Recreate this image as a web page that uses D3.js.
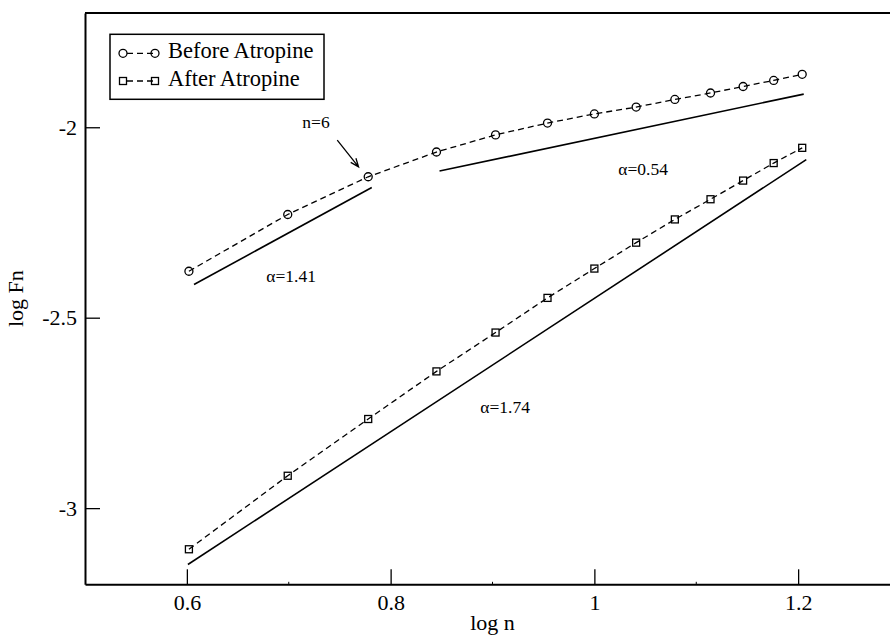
<!DOCTYPE html>
<html>
<head>
<meta charset="utf-8">
<script src="https://cdn.jsdelivr.net/npm/d3@7"></script>
<style>
  body { margin: 0; background: #fff; }
  svg text { font-family: "Liberation Serif", "Times New Roman", serif; fill: #000; }
  .axis path, .axis line { stroke: #000; }
  .axis text { font-size: 22px; }
</style>
</head>
<body>
<div id="chart"></div>
<script>
// log n for n = 4 .. 16
const logN = [0.602, 0.699, 0.778, 0.845, 0.903, 0.954, 1.000, 1.041, 1.079, 1.114, 1.146, 1.176, 1.204];
const beforeLogF = [-2.378, -2.229, -2.130, -2.065, -2.020, -1.989, -1.965, -1.947, -1.927, -1.910, -1.893, -1.877, -1.861];
const afterLogF = [-3.108, -2.915, -2.766, -2.641, -2.539, -2.448, -2.371, -2.303, -2.242, -2.189, -2.140, -2.094, -2.054];

// straight-line fits (end points)
const fitBeforeShort = [[0.607, -2.413], [0.7815, -2.158]];
const fitBeforeLong = [[0.848, -2.115], [1.2055, -1.913]];
const fitAfter = [[0.601, -3.148], [1.208, -2.085]];

const xTicks = [0.6, 0.8, 1, 1.2];
const xMinorTicks = [0.7, 0.9, 1.1];
const yTicks = [-3, -2.5, -2];

const annotations = [
  {text: "\u03b1=1.41", x: 0.678, y: -2.406},
  {text: "\u03b1=0.54", x: 1.0235, y: -2.126},
  {text: "\u03b1=1.74", x: 0.888, y: -2.750},
  {text: "n=6", x: 0.7133, y: -2.001}
];
const arrowN6 = [[0.7476, -2.034], [0.7685, -2.104]];

const seriesNames = ["Before Atropine", "After Atropine"];

class FnPlot {
  constructor(el) {
    this.width = 890;
    this.height = 637;
    this.svg = d3.select(el).append("svg")
                 .attr("width", this.width)
                 .attr("height", this.height);

    // plot box runs a bit past the right edge of the picture
    this.xScale = d3.scaleLinear().domain([0.5, 1.3]).range([85, 900]);
    this.yScale = d3.scaleLinear().domain([-3.2, -1.7]).range([584.3, 13]);

    let xScale = this.xScale, yScale = this.yScale;
    this.lineGen = d3.line()
                     .x(function(d) { return xScale(d[0]); })
                     .y(function(d) { return yScale(d[1]); });
  }

  DrawAxes() {
    let x = this.xScale, y = this.yScale;
    let [x0, x1] = x.range();
    let [y0, y1] = y.range();

    // top and right frame
    this.svg.append("path")
        .attr("d", `M${x0},${y1}H${x1}V${y0}`)
        .attr("fill", "none").attr("stroke", "#000").attr("stroke-width", 2);

    let xAxis = this.svg.append("g")
        .attr("class", "axis")
        .attr("transform", `translate(0,${y0})`)
        .call(d3.axisBottom(x).tickValues(xTicks).tickSizeInner(-15)
                .tickSizeOuter(0).tickPadding(10).tickFormat(d => String(d)));
    xAxis.select(".domain").attr("stroke-width", 2);
    xAxis.selectAll(".tick line").attr("stroke-width", 1.3);

    this.svg.append("g").selectAll("line")
        .data(xMinorTicks).join("line")
        .attr("x1", d => x(d)).attr("x2", d => x(d))
        .attr("y1", y0).attr("y2", y0 - 2.5)
        .attr("stroke", "#000").attr("stroke-width", 1);

    let yAxis = this.svg.append("g")
        .attr("class", "axis")
        .attr("transform", `translate(${x0},0)`)
        .call(d3.axisLeft(y).tickValues(yTicks).tickSizeInner(-15)
                .tickSizeOuter(0).tickPadding(8).tickFormat(d => String(d)));
    yAxis.select(".domain").attr("stroke-width", 2);
    yAxis.selectAll(".tick line").attr("stroke-width", 1.3);

    this.svg.append("text")
        .attr("x", (x0 + x1) / 2).attr("y", 630)
        .attr("text-anchor", "middle").attr("font-size", 22)
        .text("log n");

    this.svg.append("text")
        .attr("transform", `translate(23,${(y0 + y1) / 2}) rotate(-90)`)
        .attr("text-anchor", "middle").attr("font-size", 22)
        .text("log Fn");
  }

  Marker(sel, shape) {
    if (shape == "circle") {
      sel.append("circle").attr("r", 4);
    } else {
      sel.append("rect").attr("x", -3.5).attr("y", -3.5)
         .attr("width", 7).attr("height", 7);
    }
    sel.attr("fill", "none").attr("stroke", "#000").attr("stroke-width", 1.3);
  }

  AddSeries(xs, ys, shape) {
    let pts = xs.map((d, i) => [d, ys[i]]);
    this.svg.append("path")
        .attr("d", this.lineGen(pts))
        .attr("fill", "none").attr("stroke", "#000")
        .attr("stroke-width", 1.3).attr("stroke-dasharray", "6,4");
    let self = this;
    this.svg.append("g").selectAll("g")
        .data(pts).join("g")
        .attr("transform", d => `translate(${this.xScale(d[0])},${this.yScale(d[1])})`)
        .each(function() { self.Marker(d3.select(this), shape); });
  }

  AddFit(pts) {
    this.svg.append("path")
        .attr("d", this.lineGen(pts))
        .attr("fill", "none").attr("stroke", "#000").attr("stroke-width", 1.6);
  }

  DrawAnnotations() {
    let x = this.xScale, y = this.yScale;
    this.svg.append("g").selectAll("text")
        .data(annotations).join("text")
        .attr("x", d => x(d.x)).attr("y", d => y(d.y))
        .attr("font-size", 17.5)
        .text(d => d.text);

    let ax0 = x(arrowN6[0][0]), ay0 = y(arrowN6[0][1]);
    let ax1 = x(arrowN6[1][0]), ay1 = y(arrowN6[1][1]);
    let ang = Math.atan2(ay1 - ay0, ax1 - ax0);
    let hl = 9, hw = 0.38;
    this.svg.append("path")
        .attr("d", `M${ax0},${ay0}L${ax1},${ay1}` +
                   `M${ax1 - hl * Math.cos(ang - hw)},${ay1 - hl * Math.sin(ang - hw)}` +
                   `L${ax1},${ay1}` +
                   `L${ax1 - hl * Math.cos(ang + hw)},${ay1 - hl * Math.sin(ang + hw)}`)
        .attr("fill", "none").attr("stroke", "#000").attr("stroke-width", 1.3);
  }

  DrawLegend() {
    let g = this.svg.append("g").attr("transform", "translate(110,34.3)");
    g.append("rect").attr("width", 214).attr("height", 65)
     .attr("fill", "#fff").attr("stroke", "#000").attr("stroke-width", 1.5);
    let shapes = ["circle", "square"];
    let self = this;
    seriesNames.forEach((name, i) => {
      let row = g.append("g").attr("transform", `translate(0,${19 + i * 27.7})`);
      row.append("line").attr("x1", 13).attr("x2", 45)
         .attr("stroke", "#000").attr("stroke-width", 1.3)
         .attr("stroke-dasharray", "6,4").attr("stroke-dashoffset", -4);
      [13, 45].forEach(cx => {
        self.Marker(row.append("g").attr("transform", `translate(${cx},0)`), shapes[i]);
      });
      row.append("text").attr("x", 58).attr("y", 5)
         .attr("font-size", 22.5).text(name);
    });
  }
}

const plot = new FnPlot("#chart");
plot.DrawAxes();
plot.AddFit(fitBeforeShort);
plot.AddFit(fitBeforeLong);
plot.AddFit(fitAfter);
plot.AddSeries(logN, beforeLogF, "circle");
plot.AddSeries(logN, afterLogF, "square");
plot.DrawAnnotations();
plot.DrawLegend();
</script>
</body>
</html>
